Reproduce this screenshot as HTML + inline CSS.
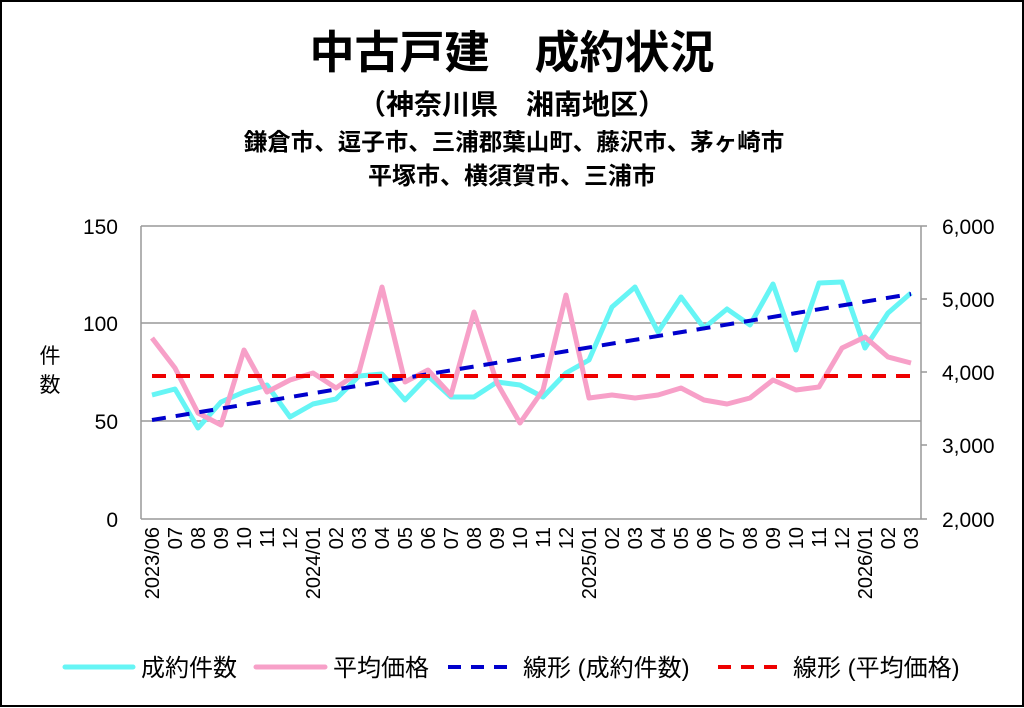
<!DOCTYPE html>
<html><head><meta charset="utf-8"><style>
html,body{margin:0;padding:0;background:#fff}
svg{display:block}
text{font-family:"Liberation Sans","Noto Sans CJK JP",sans-serif;fill:#000}
</style></head><body>
<svg width="1024" height="708" viewBox="0 0 1024 708" xmlns="http://www.w3.org/2000/svg">
<rect x="1" y="1" width="1022" height="705" fill="#fff" stroke="#000" stroke-width="2"/>
<text x="512" y="68" text-anchor="middle" font-size="45" font-weight="bold">中古戸建　成約状況</text>
<text x="512" y="114" text-anchor="middle" font-size="28" font-weight="bold">（神奈川県　湘南地区）</text>
<text x="514" y="150" text-anchor="middle" font-size="23.5" font-weight="bold">鎌倉市、逗子市、三浦郡葉山町、藤沢市、茅ヶ崎市</text>
<text x="512" y="184" text-anchor="middle" font-size="24" font-weight="bold">平塚市、横須賀市、三浦市</text>
<g stroke="#999" stroke-width="1.5">
<line x1="141" y1="226" x2="921" y2="226"/>
<line x1="141" y1="323" x2="921" y2="323"/>
<line x1="141" y1="421" x2="921" y2="421"/>
<line x1="141" y1="519" x2="921" y2="519"/>
<line x1="141" y1="226" x2="141" y2="519"/>
<line x1="921" y1="226" x2="921" y2="519"/>
<line x1="921" y1="226" x2="927" y2="226"/><line x1="921" y1="299" x2="927" y2="299"/>
<line x1="921" y1="372" x2="927" y2="372"/><line x1="921" y1="445" x2="927" y2="445"/><line x1="921" y1="519" x2="927" y2="519"/>
</g>
<g font-size="21" text-anchor="end">
<text x="118" y="234">150</text><text x="118" y="331">100</text><text x="118" y="429">50</text><text x="118" y="527">0</text>
</g>
<g font-size="21" text-anchor="start">
<text x="942" y="234">6,000</text><text x="942" y="307">5,000</text><text x="942" y="380">4,000</text><text x="942" y="453">3,000</text><text x="942" y="527">2,000</text>
</g>
<text x="50" y="363" text-anchor="middle" font-size="21">件</text>
<text x="50" y="392" text-anchor="middle" font-size="21">数</text>
<g font-size="20" text-anchor="end">
<text transform="translate(159,527) rotate(-90)">2023/06</text>
<text transform="translate(182,527) rotate(-90)">07</text>
<text transform="translate(205,527) rotate(-90)">08</text>
<text transform="translate(228,527) rotate(-90)">09</text>
<text transform="translate(251,527) rotate(-90)">10</text>
<text transform="translate(274,527) rotate(-90)">11</text>
<text transform="translate(297,527) rotate(-90)">12</text>
<text transform="translate(320,527) rotate(-90)">2024/01</text>
<text transform="translate(343,527) rotate(-90)">02</text>
<text transform="translate(366,527) rotate(-90)">03</text>
<text transform="translate(389,527) rotate(-90)">04</text>
<text transform="translate(412,527) rotate(-90)">05</text>
<text transform="translate(435,527) rotate(-90)">06</text>
<text transform="translate(458,527) rotate(-90)">07</text>
<text transform="translate(481,527) rotate(-90)">08</text>
<text transform="translate(504,527) rotate(-90)">09</text>
<text transform="translate(527,527) rotate(-90)">10</text>
<text transform="translate(550,527) rotate(-90)">11</text>
<text transform="translate(573,527) rotate(-90)">12</text>
<text transform="translate(596,527) rotate(-90)">2025/01</text>
<text transform="translate(619,527) rotate(-90)">02</text>
<text transform="translate(642,527) rotate(-90)">03</text>
<text transform="translate(665,527) rotate(-90)">04</text>
<text transform="translate(688,527) rotate(-90)">05</text>
<text transform="translate(711,527) rotate(-90)">06</text>
<text transform="translate(734,527) rotate(-90)">07</text>
<text transform="translate(757,527) rotate(-90)">08</text>
<text transform="translate(780,527) rotate(-90)">09</text>
<text transform="translate(803,527) rotate(-90)">10</text>
<text transform="translate(826,527) rotate(-90)">11</text>
<text transform="translate(849,527) rotate(-90)">12</text>
<text transform="translate(872,527) rotate(-90)">2026/01</text>
<text transform="translate(895,527) rotate(-90)">02</text>
<text transform="translate(918,527) rotate(-90)">03</text>
</g>
<polyline fill="none" stroke="#66f5f5" stroke-width="5" stroke-linejoin="round" points="152,395 175,389 198,428 221,402 244,392 267,385 290,417 313,404 336,399 359,376 382,374 405,400 428,376 451,397 474,397 497,382 520,385 543,397 566,373 589,360 612,307 635,287 658,332 681,297 704,328 727,309 750,325 773,284 796,350 819,283 842,282 865,348 888,313 911,293"/>
<polyline fill="none" stroke="#f7a0c8" stroke-width="5" stroke-linejoin="round" points="152,338 175,368 198,413 221,425 244,350 267,392 290,380 313,373 336,388 359,372 382,287 405,382 428,370 451,395 474,312 497,383 520,423 543,390 566,295 589,398 612,395 635,398 658,395 681,388 704,400 727,404 750,398 773,380 796,390 819,387 842,348 865,337 888,357 911,363"/>
<line x1="152" y1="420" x2="911" y2="294" stroke="#0000cc" stroke-width="4" stroke-dasharray="14,10"/>
<line x1="152" y1="376" x2="911" y2="376" stroke="#ee0000" stroke-width="4" stroke-dasharray="14,10"/>
<line x1="65" y1="667" x2="133" y2="667" stroke="#66f5f5" stroke-width="5" stroke-linecap="round"/>
<line x1="256" y1="667" x2="325" y2="667" stroke="#f7a0c8" stroke-width="5" stroke-linecap="round"/>
<line x1="448" y1="667" x2="516" y2="667" stroke="#0000cc" stroke-width="4" stroke-dasharray="13,10"/>
<line x1="718" y1="667" x2="786" y2="667" stroke="#ee0000" stroke-width="4" stroke-dasharray="13,10"/>
<g font-size="24">
<text x="141" y="676">成約件数</text>
<text x="333" y="676">平均価格</text>
<text x="523" y="676">線形 (成約件数)</text>
<text x="793" y="676">線形 (平均価格)</text>
</g>
</svg>
</body></html>
